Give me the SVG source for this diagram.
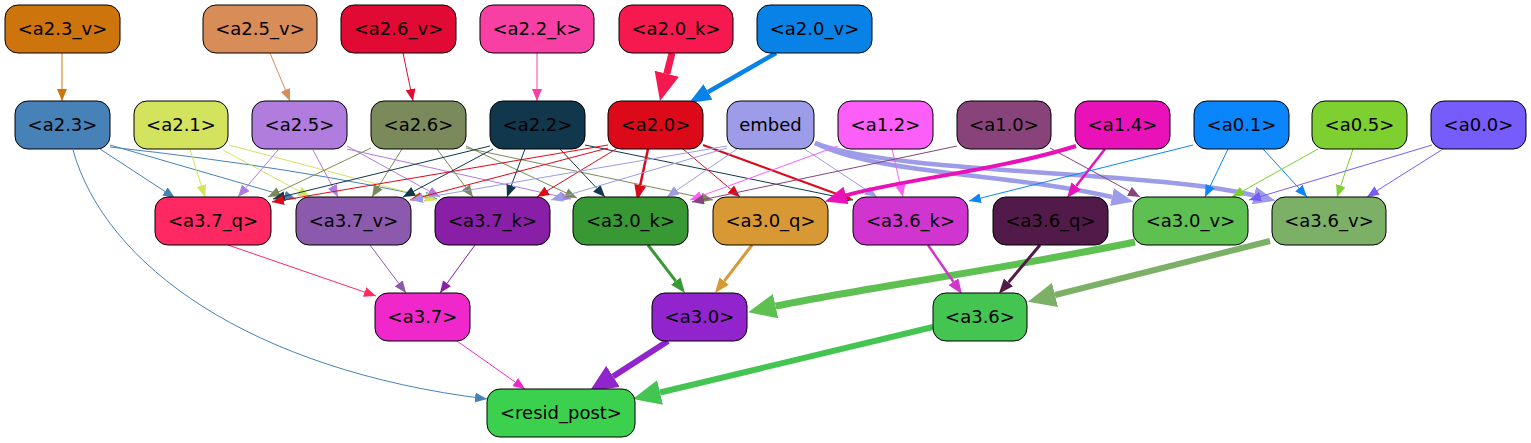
<svg xmlns="http://www.w3.org/2000/svg" width="1531" height="443" viewBox="0 0 1531 443">
<style>
.n rect{stroke:#000;stroke-width:1}
.n text{font-family:"DejaVu Sans","Liberation Sans",sans-serif;font-size:18px;text-anchor:middle;fill:#000}
.e path{fill:none}
</style>
<defs>
<marker id="s23v" viewBox="0 0 12 10" refX="12" refY="5" markerWidth="12" markerHeight="10" markerUnits="userSpaceOnUse" orient="auto"><path d="M0,0L12,5L0,10z" fill="#cd740c"/></marker>
<marker id="s25v" viewBox="0 0 12 10" refX="12" refY="5" markerWidth="12" markerHeight="10" markerUnits="userSpaceOnUse" orient="auto"><path d="M0,0L12,5L0,10z" fill="#d88c58"/></marker>
<marker id="s26v" viewBox="0 0 12 10" refX="12" refY="5" markerWidth="12" markerHeight="10" markerUnits="userSpaceOnUse" orient="auto"><path d="M0,0L12,5L0,10z" fill="#e00a34"/></marker>
<marker id="s22k" viewBox="0 0 12 10" refX="12" refY="5" markerWidth="12" markerHeight="10" markerUnits="userSpaceOnUse" orient="auto"><path d="M0,0L12,5L0,10z" fill="#f840a4"/></marker>
<marker id="s23" viewBox="0 0 12 10" refX="12" refY="5" markerWidth="12" markerHeight="10" markerUnits="userSpaceOnUse" orient="auto"><path d="M0,0L12,5L0,10z" fill="#4682b8"/></marker>
<marker id="s21" viewBox="0 0 12 10" refX="12" refY="5" markerWidth="12" markerHeight="10" markerUnits="userSpaceOnUse" orient="auto"><path d="M0,0L12,5L0,10z" fill="#d4e35e"/></marker>
<marker id="s25" viewBox="0 0 12 10" refX="12" refY="5" markerWidth="12" markerHeight="10" markerUnits="userSpaceOnUse" orient="auto"><path d="M0,0L12,5L0,10z" fill="#b07cde"/></marker>
<marker id="s26" viewBox="0 0 12 10" refX="12" refY="5" markerWidth="12" markerHeight="10" markerUnits="userSpaceOnUse" orient="auto"><path d="M0,0L12,5L0,10z" fill="#7b8a5a"/></marker>
<marker id="s22" viewBox="0 0 12 10" refX="12" refY="5" markerWidth="12" markerHeight="10" markerUnits="userSpaceOnUse" orient="auto"><path d="M0,0L12,5L0,10z" fill="#11374c"/></marker>
<marker id="s20" viewBox="0 0 12 10" refX="12" refY="5" markerWidth="12" markerHeight="10" markerUnits="userSpaceOnUse" orient="auto"><path d="M0,0L12,5L0,10z" fill="#dc0a18"/></marker>
<marker id="sem" viewBox="0 0 12 10" refX="12" refY="5" markerWidth="12" markerHeight="10" markerUnits="userSpaceOnUse" orient="auto"><path d="M0,0L12,5L0,10z" fill="#9c9ce9"/></marker>
<marker id="s12" viewBox="0 0 12 10" refX="12" refY="5" markerWidth="12" markerHeight="10" markerUnits="userSpaceOnUse" orient="auto"><path d="M0,0L12,5L0,10z" fill="#fc5ef8"/></marker>
<marker id="s10" viewBox="0 0 12 10" refX="12" refY="5" markerWidth="12" markerHeight="10" markerUnits="userSpaceOnUse" orient="auto"><path d="M0,0L12,5L0,10z" fill="#88437a"/></marker>
<marker id="s01" viewBox="0 0 12 10" refX="12" refY="5" markerWidth="12" markerHeight="10" markerUnits="userSpaceOnUse" orient="auto"><path d="M0,0L12,5L0,10z" fill="#0b85fb"/></marker>
<marker id="s05" viewBox="0 0 12 10" refX="12" refY="5" markerWidth="12" markerHeight="10" markerUnits="userSpaceOnUse" orient="auto"><path d="M0,0L12,5L0,10z" fill="#7ecf30"/></marker>
<marker id="s00" viewBox="0 0 12 10" refX="12" refY="5" markerWidth="12" markerHeight="10" markerUnits="userSpaceOnUse" orient="auto"><path d="M0,0L12,5L0,10z" fill="#775cfc"/></marker>
<marker id="s37q" viewBox="0 0 12 10" refX="12" refY="5" markerWidth="12" markerHeight="10" markerUnits="userSpaceOnUse" orient="auto"><path d="M0,0L12,5L0,10z" fill="#fe2862"/></marker>
<marker id="s37v" viewBox="0 0 12 10" refX="12" refY="5" markerWidth="12" markerHeight="10" markerUnits="userSpaceOnUse" orient="auto"><path d="M0,0L12,5L0,10z" fill="#8b5aac"/></marker>
<marker id="s37k" viewBox="0 0 12 10" refX="12" refY="5" markerWidth="12" markerHeight="10" markerUnits="userSpaceOnUse" orient="auto"><path d="M0,0L12,5L0,10z" fill="#8a1fa7"/></marker>
<marker id="s37" viewBox="0 0 12 10" refX="12" refY="5" markerWidth="12" markerHeight="10" markerUnits="userSpaceOnUse" orient="auto"><path d="M0,0L12,5L0,10z" fill="#f028cc"/></marker>
<marker id="m20" viewBox="0 0 15 12" refX="0" refY="6" markerWidth="15" markerHeight="12" markerUnits="userSpaceOnUse" orient="auto"><path d="M0,0L15,6L0,12z" fill="#dc0a18"/></marker>
<marker id="m14" viewBox="0 0 15 12" refX="0" refY="6" markerWidth="15" markerHeight="12" markerUnits="userSpaceOnUse" orient="auto"><path d="M0,0L15,6L0,12z" fill="#e912b8"/></marker>
<marker id="m30k" viewBox="0 0 15 12" refX="0" refY="6" markerWidth="15" markerHeight="12" markerUnits="userSpaceOnUse" orient="auto"><path d="M0,0L15,6L0,12z" fill="#389834"/></marker>
<marker id="m30q" viewBox="0 0 15 12" refX="0" refY="6" markerWidth="15" markerHeight="12" markerUnits="userSpaceOnUse" orient="auto"><path d="M0,0L15,6L0,12z" fill="#d89934"/></marker>
<marker id="m36k" viewBox="0 0 15 12" refX="0" refY="6" markerWidth="15" markerHeight="12" markerUnits="userSpaceOnUse" orient="auto"><path d="M0,0L15,6L0,12z" fill="#d035d0"/></marker>
<marker id="m36q" viewBox="0 0 15 12" refX="0" refY="6" markerWidth="15" markerHeight="12" markerUnits="userSpaceOnUse" orient="auto"><path d="M0,0L15,6L0,12z" fill="#521a48"/></marker>
<marker id="l20v" viewBox="0 0 22 18" refX="0" refY="9" markerWidth="22" markerHeight="18" markerUnits="userSpaceOnUse" orient="auto"><path d="M0,0L22,9L0,18z" fill="#0882e6"/></marker>
<marker id="lem" viewBox="0 0 22 18" refX="0" refY="9" markerWidth="22" markerHeight="18" markerUnits="userSpaceOnUse" orient="auto"><path d="M0,0L22,9L0,18z" fill="#9c9ce9"/></marker>
<marker id="l14" viewBox="0 0 22 18" refX="0" refY="9" markerWidth="22" markerHeight="18" markerUnits="userSpaceOnUse" orient="auto"><path d="M0,0L22,9L0,18z" fill="#e912b8"/></marker>
<marker id="x20k" viewBox="0 0 28 25" refX="0" refY="12.5" markerWidth="28" markerHeight="25" markerUnits="userSpaceOnUse" orient="auto"><path d="M0,0L28,12.5L0,25z" fill="#f5194f"/></marker>
<marker id="x30v" viewBox="0 0 28 25" refX="0" refY="12.5" markerWidth="28" markerHeight="25" markerUnits="userSpaceOnUse" orient="auto"><path d="M0,0L28,12.5L0,25z" fill="#5dc050"/></marker>
<marker id="x36v" viewBox="0 0 28 25" refX="0" refY="12.5" markerWidth="28" markerHeight="25" markerUnits="userSpaceOnUse" orient="auto"><path d="M0,0L28,12.5L0,25z" fill="#7cb067"/></marker>
<marker id="x30" viewBox="0 0 28 25" refX="0" refY="12.5" markerWidth="28" markerHeight="25" markerUnits="userSpaceOnUse" orient="auto"><path d="M0,0L28,12.5L0,25z" fill="#9124cc"/></marker>
<marker id="x36" viewBox="0 0 28 25" refX="0" refY="12.5" markerWidth="28" markerHeight="25" markerUnits="userSpaceOnUse" orient="auto"><path d="M0,0L28,12.5L0,25z" fill="#44c451"/></marker>
</defs>
<rect width="1531" height="443" fill="#fff"/>
<g id="edges" class="e" stroke-width="1">
<path d="M62,53 L62,101" stroke="#cd740c" marker-end="url(#s23v)"/>
<path d="M270,53 L290,101" stroke="#d88c58" marker-end="url(#s25v)"/>
<path d="M403,53 L413,101" stroke="#e00a34" marker-end="url(#s26v)"/>
<path d="M537,53 L537,101" stroke="#f840a4" marker-end="url(#s22k)"/>
<path d="M672,53 L666.8,73.8" stroke="#f5194f" stroke-width="7" marker-end="url(#x20k)"/>
<path d="M776,53 L708,92" stroke="#0882e6" stroke-width="4.5" marker-end="url(#l20v)"/>
<path d="M100,149 L175,198" stroke="#4682b8" marker-end="url(#s23)"/>
<path d="M110,145 L296,199" stroke="#4682b8" marker-end="url(#s23)"/>
<path d="M110,147 Q300,168 437,199" stroke="#4682b8" marker-end="url(#s23)"/>
<path d="M73,150 C105,265 250,370 487,399" stroke="#4682b8" marker-end="url(#s23)"/>
<path d="M190,150 L205,197" stroke="#d4e35e" marker-end="url(#s21)"/>
<path d="M223,150 L310,197" stroke="#d4e35e" marker-end="url(#s21)"/>
<path d="M229,145 L437,200" stroke="#d4e35e" marker-end="url(#s21)"/>
<path d="M278,150 L238,197" stroke="#b07cde" marker-end="url(#s25)"/>
<path d="M313,150 L338,197" stroke="#b07cde" marker-end="url(#s25)"/>
<path d="M347,146 L440,197" stroke="#b07cde" marker-end="url(#s25)"/>
<path d="M347,149 L571,199" stroke="#b07cde" marker-end="url(#s25)"/>
<path d="M371,148 L268,197" stroke="#7b8a5a" marker-end="url(#s26)"/>
<path d="M402,149 L372,197" stroke="#7b8a5a" marker-end="url(#s26)"/>
<path d="M437,149 L473,197" stroke="#7b8a5a" marker-end="url(#s26)"/>
<path d="M466,146 L577,198" stroke="#7b8a5a" marker-end="url(#s26)"/>
<path d="M466,148 L713,200" stroke="#7b8a5a" marker-end="url(#s26)"/>
<path d="M490,146 L273,199" stroke="#11374c" marker-end="url(#s22)"/>
<path d="M493,149 L403,197" stroke="#11374c" marker-end="url(#s22)"/>
<path d="M525,149 L507,197" stroke="#11374c" marker-end="url(#s22)"/>
<path d="M560,149 L605,197" stroke="#11374c" marker-end="url(#s22)"/>
<path d="M585,145 L853,200" stroke="#11374c" marker-end="url(#s22)"/>
<path d="M608,145 L272,202" stroke="#dc0a18" marker-end="url(#s20)"/>
<path d="M608,148 L410,200" stroke="#dc0a18" marker-end="url(#s20)"/>
<path d="M616,149 L537,197" stroke="#dc0a18" marker-end="url(#s20)"/>
<path d="M648,149 L640.2,185.3" stroke="#dc0a18" stroke-width="2.5" marker-end="url(#m20)"/>
<path d="M683,149 L740,197" stroke="#dc0a18" marker-end="url(#s20)"/>
<path d="M703,145 L838.9,194.8" stroke="#dc0a18" stroke-width="2.2" marker-end="url(#m20)"/>
<path d="M727,146 L411,200" stroke="#9c9ce9" marker-end="url(#sem)"/>
<path d="M727,148 L551,200" stroke="#9c9ce9" marker-end="url(#sem)"/>
<path d="M737,149 L667,197" stroke="#9c9ce9" marker-end="url(#sem)"/>
<path d="M803,148 L877,197" stroke="#9c9ce9" marker-end="url(#sem)"/>
<path d="M815,143 C880,175 1000,172 1112,197" stroke="#9c9ce9" stroke-width="4.5" marker-end="url(#lem)"/>
<path d="M815,143 C900,175 1150,170 1254,195.5" stroke="#9c9ce9" stroke-width="4.5" marker-end="url(#lem)"/>
<path d="M838,146 L690,200" stroke="#fc5ef8" marker-end="url(#s12)"/>
<path d="M892,149 L903,197" stroke="#fc5ef8" marker-end="url(#s12)"/>
<path d="M957,146 L692,202" stroke="#88437a" marker-end="url(#s10)"/>
<path d="M1050,148 L1140,197" stroke="#88437a" marker-end="url(#s10)"/>
<path d="M1076,146 C1000,170 900,180 846,195.4" stroke="#e912b8" stroke-width="4" marker-end="url(#l14)"/>
<path d="M1105,149 L1076.2,186.1" stroke="#e912b8" stroke-width="2.5" marker-end="url(#m14)"/>
<path d="M1193,145 L969,201" stroke="#0b85fb" marker-end="url(#s01)"/>
<path d="M1228,149 L1205,197" stroke="#0b85fb" marker-end="url(#s01)"/>
<path d="M1263,149 L1307,197" stroke="#0b85fb" marker-end="url(#s01)"/>
<path d="M1318,149 L1232,197" stroke="#7ecf30" marker-end="url(#s05)"/>
<path d="M1353,149 L1337,197" stroke="#7ecf30" marker-end="url(#s05)"/>
<path d="M1432,145 L1249,200" stroke="#775cfc" marker-end="url(#s00)"/>
<path d="M1443,149 L1367,197" stroke="#775cfc" marker-end="url(#s00)"/>
<path d="M228,245 L376,296" stroke="#fe2862" marker-end="url(#s37q)"/>
<path d="M370,245 L406,293" stroke="#8b5aac" marker-end="url(#s37v)"/>
<path d="M475,245 L440,293" stroke="#8a1fa7" marker-end="url(#s37k)"/>
<path d="M648,245 L675.8,281.1" stroke="#389834" stroke-width="3" marker-end="url(#m30k)"/>
<path d="M752,245 L724.2,281.1" stroke="#d89934" stroke-width="3" marker-end="url(#m30q)"/>
<path d="M1135,242 C1000,270 850,290 775.6,306.2" stroke="#5dc050" stroke-width="7" marker-end="url(#x30v)"/>
<path d="M928,245 L953.4,281.7" stroke="#d035d0" stroke-width="2.5" marker-end="url(#m36k)"/>
<path d="M1040,245 L1008.5,282.4" stroke="#521a48" stroke-width="3" marker-end="url(#m36q)"/>
<path d="M1270,241 L1055,295" stroke="#7cb067" stroke-width="6" marker-end="url(#x36v)"/>
<path d="M457,341 L525,389" stroke="#f028cc" marker-end="url(#s37)"/>
<path d="M668,341 L613,376.4" stroke="#9124cc" stroke-width="6" marker-end="url(#x30)"/>
<path d="M933,327 L660,392.5" stroke="#44c451" stroke-width="6" marker-end="url(#x36)"/>
</g>
<g id="a2_3_v" class="n"><rect x="5" y="5" width="115" height="48" rx="13" fill="#cd740c"/><text x="62.5" y="35">&lt;a2.3_v&gt;</text></g>
<g id="a2_5_v" class="n"><rect x="203" y="5" width="114" height="48" rx="13" fill="#d88c58"/><text x="260" y="35">&lt;a2.5_v&gt;</text></g>
<g id="a2_6_v" class="n"><rect x="341" y="5" width="115" height="48" rx="13" fill="#e00a34"/><text x="398.5" y="35">&lt;a2.6_v&gt;</text></g>
<g id="a2_2_k" class="n"><rect x="480" y="5" width="114" height="48" rx="13" fill="#f840a4"/><text x="537" y="35">&lt;a2.2_k&gt;</text></g>
<g id="a2_0_k" class="n"><rect x="619" y="5" width="114" height="48" rx="13" fill="#f5194f"/><text x="676" y="35">&lt;a2.0_k&gt;</text></g>
<g id="a2_0_v" class="n"><rect x="757" y="5" width="115" height="48" rx="13" fill="#0882e6"/><text x="814.5" y="35">&lt;a2.0_v&gt;</text></g>
<g id="a2_3" class="n"><rect x="15" y="101" width="95" height="48" rx="13" fill="#4682b8"/><text x="62.5" y="131">&lt;a2.3&gt;</text></g>
<g id="a2_1" class="n"><rect x="134" y="101" width="94" height="48" rx="13" fill="#d4e35e"/><text x="181" y="131">&lt;a2.1&gt;</text></g>
<g id="a2_5" class="n"><rect x="252" y="101" width="95" height="48" rx="13" fill="#b07cde"/><text x="299.5" y="131">&lt;a2.5&gt;</text></g>
<g id="a2_6" class="n"><rect x="371" y="101" width="95" height="48" rx="13" fill="#7b8a5a"/><text x="418.5" y="131">&lt;a2.6&gt;</text></g>
<g id="a2_2" class="n"><rect x="490" y="101" width="95" height="48" rx="13" fill="#11374c"/><text x="537.5" y="131">&lt;a2.2&gt;</text></g>
<g id="a2_0" class="n"><rect x="608" y="101" width="95" height="48" rx="13" fill="#dc0a18"/><text x="655.5" y="131">&lt;a2.0&gt;</text></g>
<g id="embed" class="n"><rect x="727" y="101" width="87" height="48" rx="13" fill="#9c9ce9"/><text x="770.5" y="131">embed</text></g>
<g id="a1_2" class="n"><rect x="838" y="101" width="95" height="48" rx="13" fill="#fc5ef8"/><text x="885.5" y="131">&lt;a1.2&gt;</text></g>
<g id="a1_0" class="n"><rect x="957" y="101" width="94" height="48" rx="13" fill="#88437a"/><text x="1004" y="131">&lt;a1.0&gt;</text></g>
<g id="a1_4" class="n"><rect x="1075" y="101" width="95" height="48" rx="13" fill="#e912b8"/><text x="1122.5" y="131">&lt;a1.4&gt;</text></g>
<g id="a0_1" class="n"><rect x="1194" y="101" width="95" height="48" rx="13" fill="#0b85fb"/><text x="1241.5" y="131">&lt;a0.1&gt;</text></g>
<g id="a0_5" class="n"><rect x="1312" y="101" width="95" height="48" rx="13" fill="#7ecf30"/><text x="1359.5" y="131">&lt;a0.5&gt;</text></g>
<g id="a0_0" class="n"><rect x="1431" y="101" width="95" height="48" rx="13" fill="#775cfc"/><text x="1478.5" y="131">&lt;a0.0&gt;</text></g>
<g id="a3_7_q" class="n"><rect x="155" y="197" width="116" height="48" rx="13" fill="#fe2862"/><text x="213" y="227">&lt;a3.7_q&gt;</text></g>
<g id="a3_7_v" class="n"><rect x="296" y="197" width="115" height="48" rx="13" fill="#8b5aac"/><text x="353.5" y="227">&lt;a3.7_v&gt;</text></g>
<g id="a3_7_k" class="n"><rect x="435" y="197" width="115" height="48" rx="13" fill="#8a1fa7"/><text x="492.5" y="227">&lt;a3.7_k&gt;</text></g>
<g id="a3_0_k" class="n"><rect x="573" y="197" width="115" height="48" rx="13" fill="#389834"/><text x="630.5" y="227">&lt;a3.0_k&gt;</text></g>
<g id="a3_0_q" class="n"><rect x="713" y="197" width="115" height="48" rx="13" fill="#d89934"/><text x="770.5" y="227">&lt;a3.0_q&gt;</text></g>
<g id="a3_6_k" class="n"><rect x="853" y="197" width="115" height="48" rx="13" fill="#d035d0"/><text x="910.5" y="227">&lt;a3.6_k&gt;</text></g>
<g id="a3_6_q" class="n"><rect x="993" y="197" width="115" height="48" rx="13" fill="#521a48"/><text x="1050.5" y="227">&lt;a3.6_q&gt;</text></g>
<g id="a3_0_v" class="n"><rect x="1133" y="197" width="115" height="48" rx="13" fill="#5dc050"/><text x="1190.5" y="227">&lt;a3.0_v&gt;</text></g>
<g id="a3_6_v" class="n"><rect x="1272" y="197" width="114" height="48" rx="13" fill="#7cb067"/><text x="1329" y="227">&lt;a3.6_v&gt;</text></g>
<g id="a3_7" class="n"><rect x="375" y="293" width="95" height="48" rx="13" fill="#f028cc"/><text x="422.5" y="323">&lt;a3.7&gt;</text></g>
<g id="a3_0" class="n"><rect x="652" y="293" width="95" height="48" rx="13" fill="#9124cc"/><text x="699.5" y="323">&lt;a3.0&gt;</text></g>
<g id="a3_6" class="n"><rect x="933" y="293" width="94" height="48" rx="13" fill="#44c451"/><text x="980" y="323">&lt;a3.6&gt;</text></g>
<g id="resid_post" class="n"><rect x="487" y="389" width="148" height="48" rx="13" fill="#3bd14f"/><text x="561" y="419">&lt;resid_post&gt;</text></g>
</svg>
